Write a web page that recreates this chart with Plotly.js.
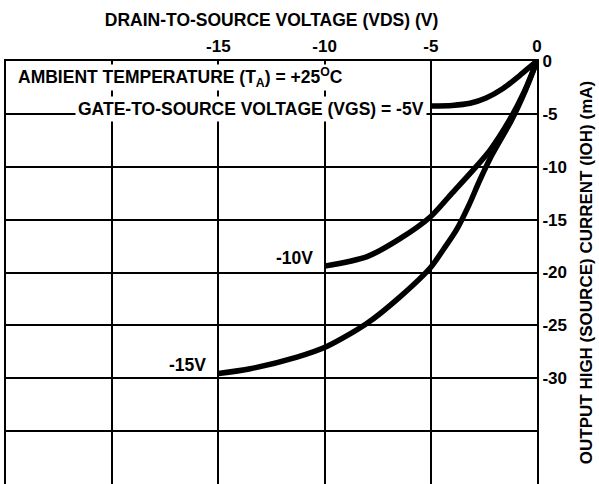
<!DOCTYPE html>
<html>
<head>
<meta charset="utf-8">
<script src="https://cdn.plot.ly/plotly-3.0.1.min.js"></script>
<style>
html,body{margin:0;padding:0;background:#fff;}
#chart{width:599px;height:484px;}
</style>
</head>
<body>
<div id="chart"></div>
<script>
// Drain-to-source voltage (V) and output high current (mA) per gate voltage
const vds5  = [-5, -4, -3.15, -2.4, -1.6, -0.8, -0.3, 0];
const ioh5  = [-4.25, -4.2, -4.0, -3.5, -2.6, -1.35, -0.5, 0];
const vds10 = [-10, -8, -6.45, -5, -4, -3, -2.2, -1.3, -0.6, 0];
const ioh10 = [-19.4, -18.5, -16.8, -14.7, -12.5, -10.3, -8.4, -5.6, -2.9, 0];
const vds15 = [-15, -13.5, -11.3, -9.9, -8, -6.45, -5, -4.4, -3.8, -3.2, -2.7, -2.1, -1.2, -0.55, 0];
const ioh15 = [-29.55, -29.1, -28.0, -27.0, -24.8, -22.3, -19.5, -17.8, -16.0, -13.6, -11.3, -8.8, -5.6, -2.8, 0];
const curveLabels = ['-5V', '-10V', '-15V'];

const xTickVals = [-15, -10, -5, 0];
const xTickText = ['-15', '-10', '-5', '0'];
const yTickVals = [-30, -25, -20, -15, -10, -5, 0];
const yTickText = ['-30', '-25', '-20', '-15', '-10', '-5', '0'];

const FONT = 'Liberation Sans, Arial, sans-serif';
const lineStyle = {color: '#000', width: 5.5, shape: 'spline', smoothing: 0.8};

const traces = [
  {x: vds5, y: ioh5, mode: 'lines', line: lineStyle, hoverinfo: 'skip'},
  {x: vds10, y: ioh10, mode: 'lines', line: lineStyle, hoverinfo: 'skip'},
  {x: vds15, y: ioh15, mode: 'lines', line: lineStyle, hoverinfo: 'skip'}
];

const labelFont = {family: FONT, size: 17.5, color: '#000'};

const annotations = [
  {xref: 'paper', yref: 'paper', x: 0.02, y: 0.96, xanchor: 'left', yanchor: 'middle',
   text: '<b>AMBIENT TEMPERATURE (T<sub>A</sub>) = +25<sup>O</sup>C</b>', showarrow: false,
   font: labelFont, bgcolor: '#fff', borderpad: 0},
  {xref: 'x', yref: 'y', x: vds5[0], y: ioh5[0], xanchor: 'right', yanchor: 'middle', xshift: -4, yshift: -3,
   text: '<b>GATE-TO-SOURCE VOLTAGE (VGS) = ' + curveLabels[0] + '</b>', showarrow: false,
   font: labelFont, bgcolor: '#fff', borderpad: 2},
  {xref: 'x', yref: 'y', x: vds10[0], y: ioh10[0], xanchor: 'right', yanchor: 'middle', xshift: -10, yshift: 8,
   text: '<b>' + curveLabels[1] + '</b>', showarrow: false, font: labelFont},
  {xref: 'x', yref: 'y', x: vds15[0], y: ioh15[0], xanchor: 'right', yanchor: 'middle', xshift: -10, yshift: 8,
   text: '<b>' + curveLabels[2] + '</b>', showarrow: false, font: labelFont}
];

const gridMinor = {dtick: 5, tick0: 0, showgrid: true, gridcolor: '#000', gridwidth: 2, ticks: ''};

const layout = {
  width: 599, height: 484,
  margin: {l: 6, r: 62, t: 61, b: 0, pad: 0},
  paper_bgcolor: '#fff', plot_bgcolor: '#fff',
  showlegend: false,
  font: {family: FONT, size: 17, color: '#000'},
  xaxis: {
    side: 'top', range: [-25, 0], tickvals: xTickVals, ticktext: xTickText,
    showgrid: true, gridcolor: '#000', gridwidth: 2, minor: gridMinor,
    showline: true, linecolor: '#000', linewidth: 2, mirror: true,
    ticks: '', zeroline: false,
    tickfont: {family: FONT, size: 17, color: '#000', weight: 'bold'},
    title: {text: '<b>DRAIN-TO-SOURCE VOLTAGE (VDS) (V)</b>', font: {family: FONT, size: 17.5, color: '#000'}, standoff: 6}
  },
  yaxis: {
    side: 'right', range: [-40, 0], tickvals: yTickVals, ticktext: yTickText,
    showgrid: true, gridcolor: '#000', gridwidth: 2, minor: gridMinor,
    showline: true, linecolor: '#000', linewidth: 2, mirror: true,
    ticks: '', zeroline: false,
    tickfont: {family: FONT, size: 17, color: '#000', weight: 'bold'},
    title: {text: '<b>OUTPUT HIGH (SOURCE) CURRENT (IOH) (mA)</b>', font: {family: FONT, size: 17, color: '#000'}, standoff: 14}
  },
  annotations: annotations
};

Plotly.newPlot('chart', traces, layout, {displayModeBar: false, staticPlot: true});
</script>
</body>
</html>
